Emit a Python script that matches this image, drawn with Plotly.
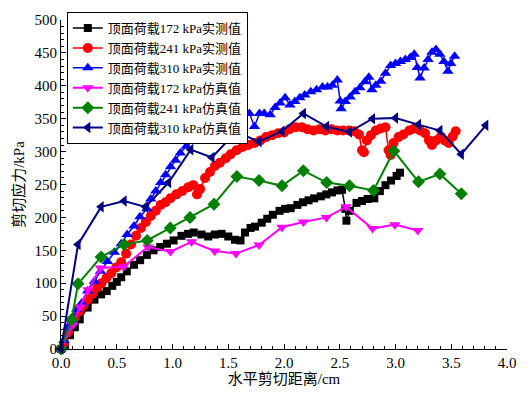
import plotly.graph_objects as go

# 172 kPa measured (black squares)
x172m = [0, 0.035, 0.08, 0.124, 0.168, 0.239, 0.30, 0.36, 0.41, 0.46, 0.50, 0.54, 0.59, 0.655, 0.71, 0.77, 0.83, 0.89, 0.95, 1.01,
         1.08, 1.14, 1.19, 1.26, 1.32, 1.38, 1.44, 1.50, 1.56, 1.61, 1.65, 1.70, 1.74, 1.80, 1.85, 1.90, 1.96, 2.01, 2.06, 2.12,
         2.17, 2.22, 2.27, 2.33, 2.38, 2.43, 2.48, 2.52, 2.55, 2.56, 2.59, 2.65, 2.70, 2.75, 2.81, 2.86, 2.91, 2.96, 3.01, 3.04]
y172m = [0, 6, 21, 33, 45, 63, 75, 83, 88, 96, 102, 109, 118, 128, 135, 143, 150, 155, 160, 165,
         172, 175, 177, 174, 171, 174, 175, 171, 166, 165, 177, 184, 186, 192, 198, 204, 210, 213, 214, 219,
         223, 226, 229, 232, 235, 238, 241, 242, 213, 195, 210, 222, 225, 228, 229, 240, 249, 256, 263, 268]

# 241 kPa measured (red circles)
x241m = [0, 0.027, 0.062, 0.097, 0.124, 0.168, 0.204, 0.239, 0.283, 0.327, 0.363, 0.407, 0.451, 0.496, 0.54, 0.584, 0.628, 0.673,
         0.717, 0.761, 0.805, 0.85, 0.894, 0.938, 0.982, 1.035, 1.088, 1.142, 1.186, 1.22, 1.248, 1.292, 1.336, 1.38, 1.425,
         1.478, 1.522, 1.575, 1.628, 1.681, 1.735, 1.788, 1.84, 1.894, 1.947, 2.0, 2.05, 2.106, 2.16, 2.21, 2.265, 2.32, 2.37,
         2.425, 2.478, 2.53, 2.584, 2.63, 2.673, 2.70, 2.717, 2.743, 2.78, 2.823, 2.867, 2.91, 2.938, 2.956, 2.982, 3.027,
         3.07, 3.124, 3.168, 3.22, 3.265, 3.30, 3.327, 3.363, 3.407, 3.442, 3.478, 3.513, 3.54]
y241m = [0, 9, 25, 39, 48, 58, 67, 75, 84, 94, 100, 108, 115, 124, 132, 145, 159, 172,
         184, 193, 202, 210, 219, 223, 229, 235, 240, 246, 249, 235, 243, 260, 269, 278, 283,
         290, 296, 302, 307, 310, 313, 317, 322, 325, 328, 329, 334, 337, 337, 334, 332, 334, 332,
         334, 332, 332, 332, 331, 326, 302, 299, 317, 325, 332, 335, 337, 302, 295, 313, 322,
         326, 332, 335, 332, 328, 317, 310, 317, 323, 317, 313, 323, 331]

# 310 kPa measured (blue up-triangles)
x310m = [0, 0.027, 0.062, 0.097, 0.142, 0.186, 0.239, 0.30, 0.354, 0.416, 0.478, 0.54, 0.593, 0.655, 0.708, 0.77, 0.805, 0.85,
         0.894, 0.938, 0.982, 1.027, 1.07, 1.124, 1.186, 1.24, 1.283, 1.327, 1.372, 1.425, 1.47, 1.513, 1.558, 1.60, 1.646,
         1.69, 1.735, 1.78, 1.823, 1.876, 1.92, 1.965, 2.01, 2.053, 2.097, 2.142, 2.186, 2.24, 2.292, 2.345, 2.39, 2.434,
         2.478, 2.504, 2.513, 2.55, 2.593, 2.637, 2.681, 2.726, 2.761, 2.788, 2.823, 2.867, 2.91, 2.956, 3.0, 3.044, 3.088,
         3.133, 3.168, 3.195, 3.22, 3.257, 3.292, 3.327, 3.363, 3.398, 3.434, 3.47, 3.496, 3.53]
y310m = [0, 13, 33, 45, 60, 70, 88, 103, 118, 133, 147, 160, 174, 187, 201, 213, 228, 240,
         253, 265, 277, 287, 298, 308, 317, 325, 334, 328, 338, 337, 346, 350, 353, 353, 359,
         358, 338, 358, 358, 356, 367, 374, 382, 371, 376, 382, 386, 391, 394, 398, 398, 401,
         409, 377, 365, 376, 383, 391, 397, 406, 413, 394, 401, 407, 419, 431, 434, 437, 440,
         443, 448, 428, 412, 427, 440, 451, 455, 448, 437, 422, 434, 445]

# 172 kPa simulated (magenta down-triangles)
x172s = [0, 0.106, 0.168, 0.242, 0.354, 0.56, 0.779, 0.982, 1.171, 1.378, 1.569, 1.776, 1.982, 2.174, 2.381, 2.558, 2.794, 2.994, 3.2]
y172s = [0, 37, 64, 90, 123, 125, 155, 148, 163, 149, 145, 158, 185, 193, 200, 216, 183, 189, 180]

# 241 kPa simulated (green diamonds)
x241s = [0, 0.095, 0.153, 0.36, 0.566, 0.773, 0.98, 1.157, 1.372, 1.578, 1.776, 1.982, 2.174, 2.383, 2.587, 2.803, 2.985, 3.206, 3.398, 3.59]
y241s = [0, 45, 99, 140, 159, 165, 184, 200, 220, 262, 256, 248, 271, 253, 248, 241, 301, 254, 266, 236]

# 310 kPa simulated (navy left-triangles)
x310s = [0, 0.153, 0.36, 0.566, 0.758, 0.965, 1.164, 1.354, 1.569, 1.776, 1.982, 2.174, 2.381, 2.587, 2.794, 3.0, 3.206, 3.398, 3.59, 3.81]
y310s = [0, 159, 216, 225, 216, 253, 303, 291, 330, 315, 331, 358, 338, 330, 350, 351, 341, 332, 296, 340]

names = ["顶面荷载172 kPa实测值", "顶面荷载241 kPa实测值", "顶面荷载310 kPa实测值",
         "顶面荷载172 kPa仿真值", "顶面荷载241 kPa仿真值", "顶面荷载310 kPa仿真值"]

FONT = "Times New Roman, Liberation Serif, DejaVu Serif, Noto Sans CJK SC"

fig = go.Figure()
series = [
    (x172m, y172m, "#000000", "square", 8, 1.5),
    (x241m, y241m, "#FF0000", "circle", 10, 1.5),
    (x310m, y310m, "#0000FF", "triangle-up", 10, 1.5),
    (x172s, y172s, "#FF00FF", "triangle-down", 10, 2),
    (x241s, y241s, "#008000", "diamond", 10, 2),
    (x310s, y310s, "#000080", "triangle-left", 10, 2),
]
for (xs, ys, c, sym, ms, lw), nm in zip(series, names):
    fig.add_trace(go.Scatter(x=xs, y=ys, mode="lines+markers", name=nm,
                             line=dict(color=c, width=lw),
                             marker=dict(color=c, symbol=sym, size=ms, line=dict(width=0)),
                             cliponaxis=False))

axis_common = dict(showline=True, linecolor="black", linewidth=1, mirror=False,
                   ticks="inside", ticklen=5, tickwidth=1, tickcolor="black",
                   showgrid=False, zeroline=False,
                   tickfont=dict(family=FONT, size=15, color="black"),
                   minor=dict(ticks="inside", ticklen=3, tickwidth=1, tickcolor="black"))

fig.update_xaxes(range=[0, 4.0], dtick=0.5, tickformat=".1f", **axis_common,
                 title=dict(text="水平剪切距离/cm", font=dict(family=FONT, size=15, color="black"), standoff=2))
fig.update_yaxes(range=[0, 500], dtick=50, **axis_common,
                 title=dict(text="剪切应力/kPa", font=dict(family=FONT, size=15, color="black"), standoff=6))

fig.update_layout(
    width=528, height=396,
    margin=dict(l=61, r=15, t=18, b=44),
    paper_bgcolor="white", plot_bgcolor="white",
    font=dict(family=FONT, color="black"),
    showlegend=True,
    legend=dict(x=0.013, y=1.024, xanchor="left", yanchor="top",
                bgcolor="white", bordercolor="black", borderwidth=1,
                font=dict(family=FONT, size=13, color="black"),
                itemwidth=30, tracegroupgap=0),
)

fig.write_html("out.html")
